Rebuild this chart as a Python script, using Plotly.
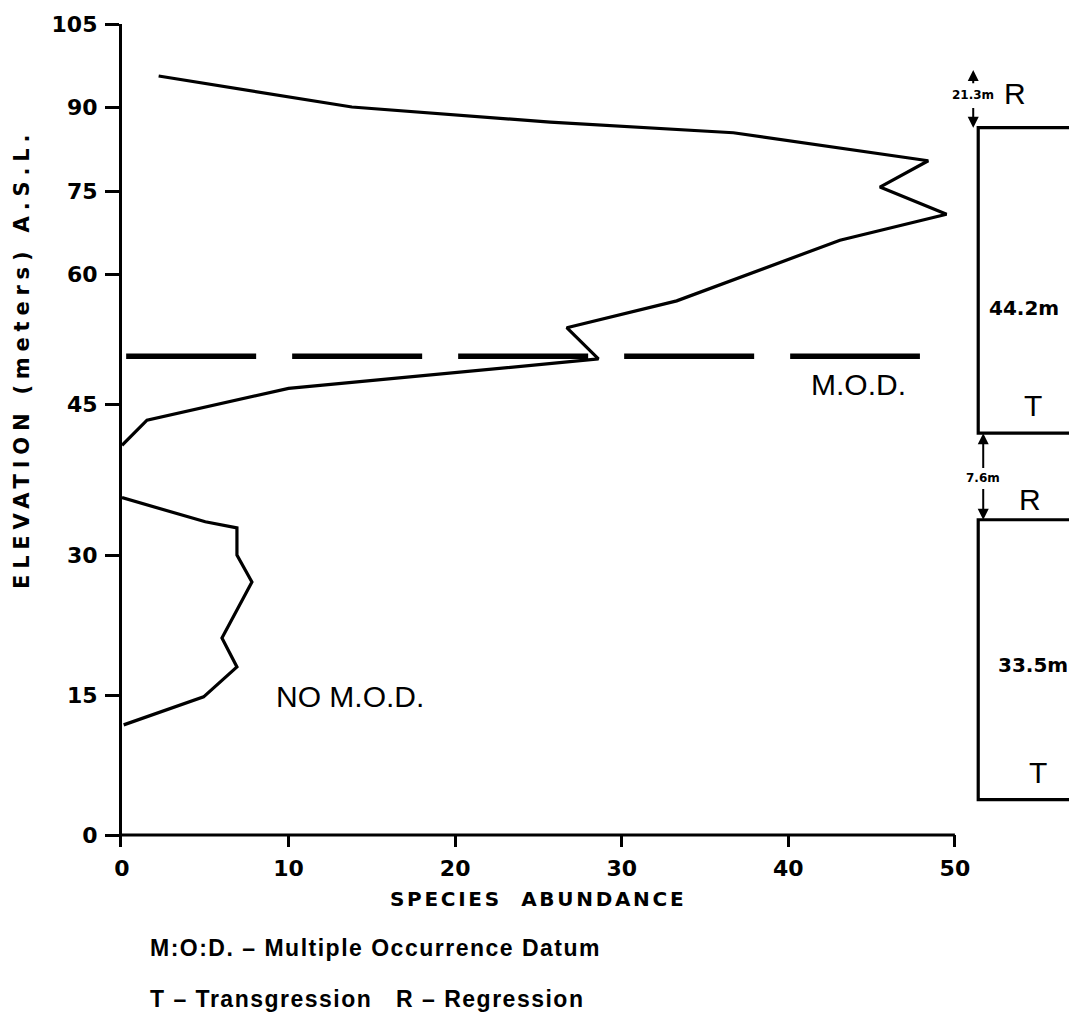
import numpy as np
import plotly.graph_objects as go

# ---------------- data ----------------
# Elevation axis of the original is hand drawn with unequal spacing between ticks
ELEV_TICKS = [0, 15, 30, 45, 60, 75, 90, 105]
AXIS_STOPS = [0, 140, 280, 431, 561, 644, 728, 811]   # relative position of each tick on the drawn scale
X_TICKS = [0, 10, 20, 30, 40, 50]

# upper profile (species abundance vs elevation, m)
upper_abund = [2.2, 13.8, 25.7, 36.7, 48.4, 45.5, 49.5, 43.1, 33.3, 26.7, 28.6, 10.0, 1.5, 0.0]
upper_elev = [95.6, 90.0, 87.3, 85.4, 80.4, 75.7, 70.8, 66.1, 56.9, 53.8, 50.2, 46.8, 43.4, 40.9]

# lower profile
lower_abund = [0.0, 5.0, 6.9, 6.9, 7.8, 6.0, 6.9, 4.9, 0.1]
lower_elev = [35.7, 33.3, 32.7, 30.0, 27.1, 21.1, 18.0, 14.8, 11.8]

# Multiple Occurrence Datum
MOD_ELEV = 50.5
MOD_X = [0.25, 47.9]

# transgression / regression cycles (elevation bounds, m)
CYCLE_TOP = [86.3, 33.5]
CYCLE_BOTTOM = [42.1, 3.8]
CYCLE_X = 51.4
CYCLE_LABELS = ["44.2m", "33.5m"]
GAP_LABELS = ["21.3m", "7.6m"]


def warp(e):
    return np.interp(np.asarray(e, dtype=float), ELEV_TICKS, AXIS_STOPS)


BLACK = "#000"
NUMFONT = dict(family="DejaVu Sans", size=22, color=BLACK, weight="bold")

fig = go.Figure()

fig.add_trace(go.Scatter(x=upper_abund, y=warp(upper_elev), mode="lines",
                         line=dict(color=BLACK, width=3.2), hoverinfo="skip"))
fig.add_trace(go.Scatter(x=lower_abund, y=warp(lower_elev), mode="lines",
                         line=dict(color=BLACK, width=3.2), hoverinfo="skip"))
fig.add_trace(go.Scatter(x=MOD_X, y=warp([MOD_ELEV, MOD_ELEV]), mode="lines",
                         line=dict(color=BLACK, width=5.5, dash="130px,36px"), hoverinfo="skip"))
# x axis baseline (0..50)
fig.add_trace(go.Scatter(x=[X_TICKS[0], X_TICKS[-1]], y=warp([0, 0]), mode="lines",
                         line=dict(color=BLACK, width=3.2), hoverinfo="skip"))

# cycle boxes
XR = 57.33
for top, bot in zip(CYCLE_TOP, CYCLE_BOTTOM):
    fig.add_trace(go.Scatter(x=[XR + 3, CYCLE_X, CYCLE_X, XR + 3],
                             y=warp([top, top, bot, bot]), mode="lines",
                             line=dict(color=BLACK, width=3.2), hoverinfo="skip"))

ann = []
REG = dict(family="Liberation Sans", size=30, color=BLACK)
ann.append(dict(x=44.2, y=float(warp(47.2)), text="M.O.D.", font=REG, showarrow=False))
ann.append(dict(x=9.1, y=float(warp(14.8)), text="NO M.O.D.", xanchor="left", font=REG, showarrow=False))

BOLDNUM = dict(family="DejaVu Sans", size=20, color=BLACK, weight="bold")
ann.append(dict(x=54.15, y=float(warp(56.1)), text=CYCLE_LABELS[0], font=BOLDNUM, showarrow=False))
ann.append(dict(x=54.7, y=float(warp(18.2)), text=CYCLE_LABELS[1], font=BOLDNUM, showarrow=False))
ann.append(dict(x=54.7, y=float(warp(44.9)), text="T", font=REG, showarrow=False))
ann.append(dict(x=55.0, y=float(warp(6.75)), text="T", font=REG, showarrow=False))
ann.append(dict(x=53.6, y=float(warp(92.4)), text="R", font=REG, showarrow=False))
ann.append(dict(x=54.5, y=float(warp(35.5)), text="R", font=REG, showarrow=False))

SMALL = dict(family="DejaVu Sans", size=12, color=BLACK, weight="bold")
ann.append(dict(x=51.1, y=float(warp(92.2)), text=GAP_LABELS[0], font=SMALL, showarrow=False))
ann.append(dict(x=51.7, y=float(warp(37.6)), text=GAP_LABELS[1], font=SMALL, showarrow=False))


# arrows
def arrow(x, e_tip, e_tail):
    return dict(x=x, y=float(warp(e_tip)), ax=x, ay=float(warp(e_tail)), axref="x", ayref="y",
                xref="x", yref="y", text="", showarrow=True, arrowhead=2, arrowsize=1.1,
                arrowwidth=2, arrowcolor=BLACK, standoff=0)


ann.append(arrow(51.1, 96.7, 94.0))
ann.append(arrow(51.1, CYCLE_TOP[0], 90.1))
ann.append(arrow(51.7, CYCLE_BOTTOM[0], 38.5))
ann.append(arrow(51.7, CYCLE_TOP[1], 36.7))

# axis titles & key
ann.append(dict(xref="x", x=25, yref="paper", y=0, yanchor="middle", yshift=-52,
                text='<span style="letter-spacing:2.7px">SPECIES  ABUNDANCE</span>',
                font=dict(family="DejaVu Sans", size=20, color=BLACK, weight="bold"), showarrow=False))
ann.append(dict(xref="paper", x=0, xanchor="center", xshift=-100, yref="paper", y=0.593,
                yanchor="middle", textangle=-90,
                text='<span style="letter-spacing:5.8px">ELEVATION (meters) A.S.L.</span>',
                font=dict(family="DejaVu Sans", size=21, color=BLACK, weight="bold"), showarrow=False))
KEY = dict(family="Liberation Sans", size=23, color=BLACK, weight="bold")
ann.append(dict(xref="paper", x=0, xshift=26, xanchor="left", yref="paper", y=0, yshift=-101,
                yanchor="middle",
                text='<span style="letter-spacing:1.5px">M:O:D. – Multiple Occurrence Datum</span>',
                font=KEY, showarrow=False))
ann.append(dict(xref="paper", x=0, xshift=26, xanchor="left", yref="paper", y=0, yshift=-152,
                yanchor="middle",
                text='<span style="letter-spacing:1.5px">T – Transgression   R – Regression</span>',
                font=KEY, showarrow=False))

# the page body adds an 8px offset, margins compensate for it
fig.update_layout(
    width=1077, height=1026,
    margin=dict(l=114, r=8, t=16, b=187, autoexpand=False),
    paper_bgcolor="white", plot_bgcolor="white",
    showlegend=False,
    annotations=ann,
    xaxis=dict(range=[0, XR], tickvals=X_TICKS, ticktext=[str(v) for v in X_TICKS],
               ticks="inside", ticklen=12, tickwidth=3, tickcolor=BLACK, automargin=False,
               showline=False, showgrid=False, zeroline=False, tickfont=NUMFONT,
               ticklabelstandoff=6),
    yaxis=dict(range=[-12, AXIS_STOPS[-1]], tickvals=list(warp(ELEV_TICKS)),
               ticktext=[str(v) for v in ELEV_TICKS], automargin=False,
               ticks="outside", ticklen=14, tickwidth=3, tickcolor=BLACK,
               showline=True, linewidth=3.2, linecolor=BLACK, ticklabelstandoff=3,
               showgrid=False, zeroline=False, tickfont=NUMFONT),
)

fig.write_html("out.html")
